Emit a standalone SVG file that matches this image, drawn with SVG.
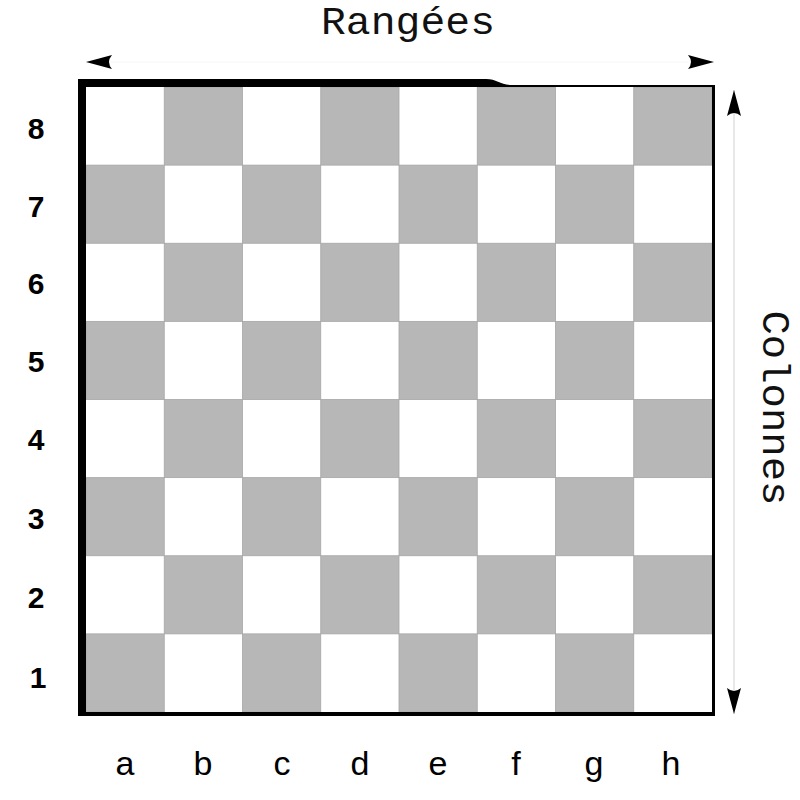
<svg xmlns="http://www.w3.org/2000/svg" width="800" height="800" viewBox="0 0 800 800">
  <style>
    .dark { fill: #b7b7b7; stroke: #a6a6a6; stroke-width: 0.8; }
    .title { font-family: "Liberation Mono", "DejaVu Sans Mono", monospace; font-size: 38px; fill: #111; }
    .rank { font-family: "Liberation Sans", Arial, sans-serif; font-size: 30px; font-weight: bold; fill: #000; text-anchor: middle; }
    .file { font-family: "Liberation Sans", Arial, sans-serif; font-size: 34px; fill: #000; text-anchor: middle; }
    .axis { fill: none; stroke: #e8e8e8; stroke-width: 2; }
    .axis-top { fill: none; stroke: #fbfbfb; stroke-width: 2; }
  </style>
  <defs>
    <marker id="ah" viewBox="-28 -9 30 18" refX="0" refY="0" markerWidth="30" markerHeight="18" markerUnits="userSpaceOnUse" orient="auto-start-reverse">
      <path d="M0,0 L-26,-7 Q-20,0 -26,7 Z" fill="#000"/>
    </marker>
  </defs>
  <rect width="800" height="800" fill="#fff"/>

  <g id="board">
    <rect x="86" y="87" width="626" height="625" fill="#fff"/>
    <!-- rank 8 -->
    <rect class="dark" x="164.25" y="87" width="78.25" height="78.125"/>
    <rect class="dark" x="320.75" y="87" width="78.25" height="78.125"/>
    <rect class="dark" x="477.25" y="87" width="78.25" height="78.125"/>
    <rect class="dark" x="633.75" y="87" width="78.25" height="78.125"/>
    <!-- rank 7 -->
    <rect class="dark" x="86" y="165.125" width="78.25" height="78.125"/>
    <rect class="dark" x="242.5" y="165.125" width="78.25" height="78.125"/>
    <rect class="dark" x="399" y="165.125" width="78.25" height="78.125"/>
    <rect class="dark" x="555.5" y="165.125" width="78.25" height="78.125"/>
    <!-- rank 6 -->
    <rect class="dark" x="164.25" y="243.25" width="78.25" height="78.125"/>
    <rect class="dark" x="320.75" y="243.25" width="78.25" height="78.125"/>
    <rect class="dark" x="477.25" y="243.25" width="78.25" height="78.125"/>
    <rect class="dark" x="633.75" y="243.25" width="78.25" height="78.125"/>
    <!-- rank 5 -->
    <rect class="dark" x="86" y="321.375" width="78.25" height="78.125"/>
    <rect class="dark" x="242.5" y="321.375" width="78.25" height="78.125"/>
    <rect class="dark" x="399" y="321.375" width="78.25" height="78.125"/>
    <rect class="dark" x="555.5" y="321.375" width="78.25" height="78.125"/>
    <!-- rank 4 -->
    <rect class="dark" x="164.25" y="399.5" width="78.25" height="78.125"/>
    <rect class="dark" x="320.75" y="399.5" width="78.25" height="78.125"/>
    <rect class="dark" x="477.25" y="399.5" width="78.25" height="78.125"/>
    <rect class="dark" x="633.75" y="399.5" width="78.25" height="78.125"/>
    <!-- rank 3 -->
    <rect class="dark" x="86" y="477.625" width="78.25" height="78.125"/>
    <rect class="dark" x="242.5" y="477.625" width="78.25" height="78.125"/>
    <rect class="dark" x="399" y="477.625" width="78.25" height="78.125"/>
    <rect class="dark" x="555.5" y="477.625" width="78.25" height="78.125"/>
    <!-- rank 2 -->
    <rect class="dark" x="164.25" y="555.75" width="78.25" height="78.125"/>
    <rect class="dark" x="320.75" y="555.75" width="78.25" height="78.125"/>
    <rect class="dark" x="477.25" y="555.75" width="78.25" height="78.125"/>
    <rect class="dark" x="633.75" y="555.75" width="78.25" height="78.125"/>
    <!-- rank 1 -->
    <rect class="dark" x="86" y="633.875" width="78.25" height="78.125"/>
    <rect class="dark" x="242.5" y="633.875" width="78.25" height="78.125"/>
    <rect class="dark" x="399" y="633.875" width="78.25" height="78.125"/>
    <rect class="dark" x="555.5" y="633.875" width="78.25" height="78.125"/>
    <!-- frame -->
    <path fill="#000" fill-rule="evenodd" d="M78,79 H486 C497,79 500,85 512,85 H715 V716 H78 Z M86,87 H712 V712 H86 Z"/>
  </g>

  <g id="connectors">
    <line class="axis-top" x1="86" y1="62" x2="714" y2="62" marker-start="url(#ah)" marker-end="url(#ah)"/>
    <line class="axis" x1="734" y1="90" x2="734" y2="714" marker-start="url(#ah)" marker-end="url(#ah)"/>
  </g>

  <g id="axis-labels">
    <text class="title" x="408" y="34" text-anchor="middle" textLength="174" lengthAdjust="spacingAndGlyphs">Rangées</text>
    <text class="title" transform="translate(763,408) rotate(90)" x="0" y="0" text-anchor="middle" textLength="195" lengthAdjust="spacingAndGlyphs">Colonnes</text>
  </g>

  <g id="ranks">
    <text class="rank" x="36" y="139">8</text>
    <text class="rank" x="36" y="217">7</text>
    <text class="rank" x="36" y="294">6</text>
    <text class="rank" x="36" y="372">5</text>
    <text class="rank" x="36" y="450">4</text>
    <text class="rank" x="36" y="529">3</text>
    <text class="rank" x="36" y="608">2</text>
    <text class="rank" x="38" y="688">1</text>
  </g>

  <g id="files">
    <text class="file" x="125" y="775">a</text>
    <text class="file" x="203" y="775">b</text>
    <text class="file" x="282" y="775">c</text>
    <text class="file" x="360" y="775">d</text>
    <text class="file" x="438" y="775">e</text>
    <text class="file" x="516" y="775">f</text>
    <text class="file" x="594" y="775">g</text>
    <text class="file" x="671" y="775">h</text>
  </g>
</svg>
